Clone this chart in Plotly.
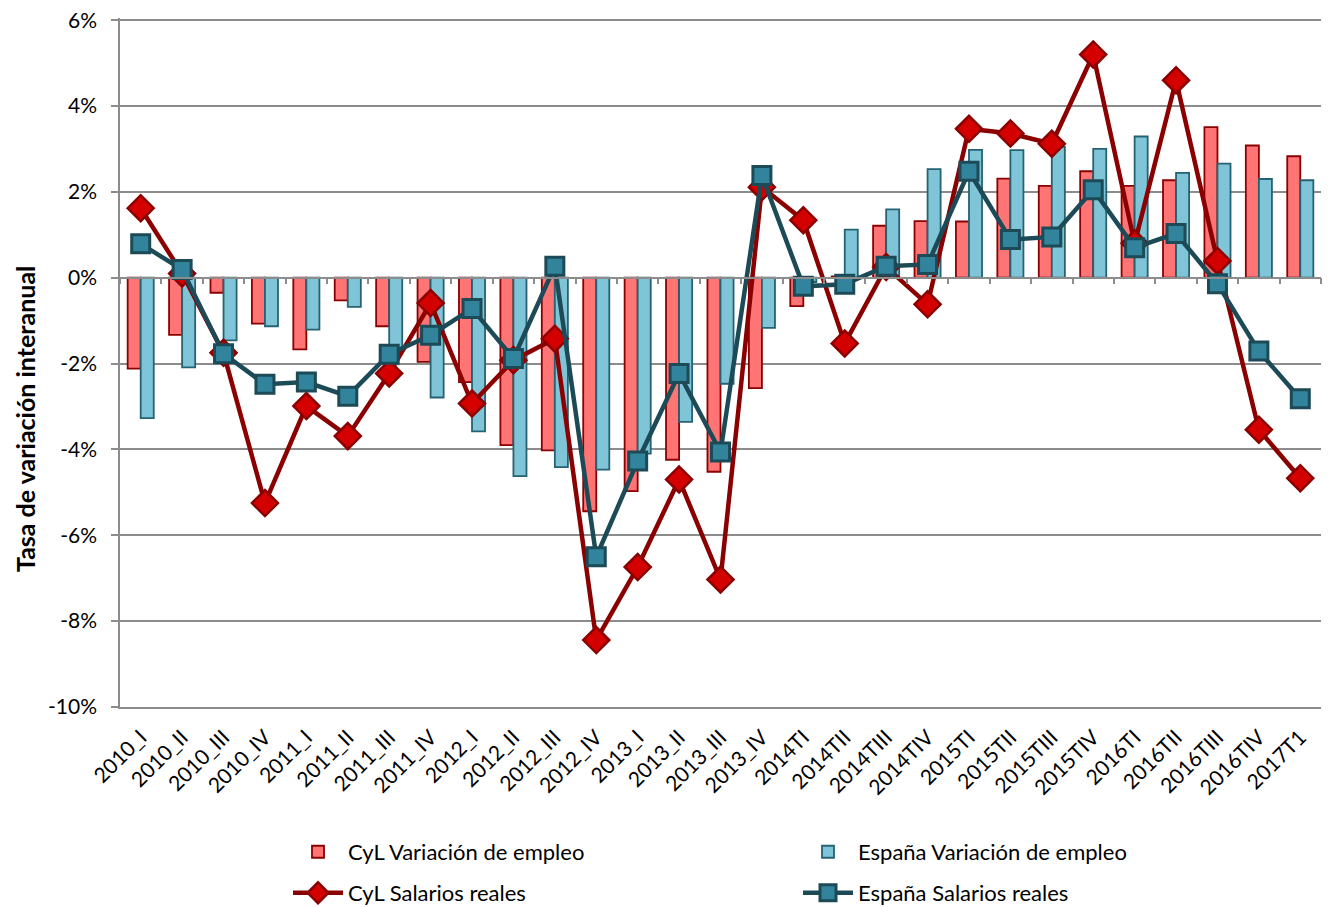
import plotly.graph_objects as go

categories = ["2010_I", "2010_II", "2010_III", "2010_IV", "2011_I", "2011_II", "2011_III", "2011_IV",
              "2012_I", "2012_II", "2012_III", "2012_IV", "2013_I", "2013_II", "2013_III", "2013_IV",
              "2014TI", "2014TII", "2014TIII", "2014TIV", "2015TI", "2015TII", "2015TIII", "2015TIV",
              "2016TI", "2016TII", "2016TIII", "2016TIV", "2017T1"]

cyl_empleo = [-2.12, -1.33, -0.35, -1.07, -1.67, -0.53, -1.13, -1.96,
              -2.43, -3.90, -4.02, -5.44, -4.97, -4.24, -4.52, -2.57,
              -0.66, 0.03, 1.21, 1.32, 1.31, 2.31, 2.14, 2.48,
              2.14, 2.27, 3.51, 3.08, 2.83]

esp_empleo = [-3.27, -2.09, -1.46, -1.13, -1.21, -0.68, -1.75, -2.79,
              -3.58, -4.62, -4.41, -4.47, -4.10, -3.36, -2.47, -1.17,
              -0.10, 1.12, 1.59, 2.53, 2.98, 2.97, 3.05, 3.00,
              3.29, 2.44, 2.66, 2.30, 2.27]

cyl_salarios = [1.62, 0.10, -1.75, -5.25, -2.99, -3.69, -2.23, -0.59,
                -2.93, -1.92, -1.42, -8.44, -6.74, -4.70, -7.03, 2.11,
                1.34, -1.53, 0.25, -0.62, 3.47, 3.36, 3.12, 5.20,
                0.80, 4.60, 0.39, -3.54, -4.67]

esp_salarios = [0.79, 0.19, -1.77, -2.48, -2.43, -2.76, -1.78, -1.34,
                -0.72, -1.88, 0.27, -6.50, -4.27, -2.23, -4.06, 2.38,
                -0.20, -0.15, 0.27, 0.31, 2.48, 0.89, 0.95, 2.05,
                0.70, 1.03, -0.14, -1.71, -2.82]

y_ticks = [-10, -8, -6, -4, -2, 0, 2, 4, 6]

FONT = "Lato"
GRID = "#8C8C8C"

W, H = 1330, 907
# 6% sits at screen y=20, -10% at y=707; a tiny pad above 6% keeps its gridline drawn
Y_MIN, Y_MAX, Y_PAD = -10, 6, 0.05
PX_PER_UNIT = (707 - 20) / (Y_MAX - Y_MIN)
L = 120
T = 20 - Y_PAD * PX_PER_UNIT
R = W - 1321
B = H - 707
PW, PH = W - L - R, H - T - B


def px_x(x):
    """screen pixel x -> paper x"""
    return (x - L) / PW


def px_y(y):
    """screen pixel y -> paper y"""
    return (H - B - y) / PH


fig = go.Figure()
fig.add_trace(go.Bar(x=categories, y=cyl_empleo, name="CyL Variación de empleo", legend="legend",
                     marker=dict(color="#FF7575", line=dict(color="#8B0000", width=1.8))))
fig.add_trace(go.Bar(x=categories, y=esp_empleo, name="España Variación de empleo", legend="legend2",
                     marker=dict(color="#80C4D7", line=dict(color="#256373", width=1.8))))
fig.add_trace(go.Scatter(x=categories, y=cyl_salarios, name="CyL Salarios reales", mode="lines+markers",
                         legend="legend3",
                         line=dict(color="#8B0000", width=4.5),
                         marker=dict(symbol="diamond", size=20, color="#D40000",
                                     line=dict(color="#8B0000", width=2.5))))
fig.add_trace(go.Scatter(x=categories, y=esp_salarios, name="España Salarios reales", mode="lines+markers",
                         legend="legend4",
                         line=dict(color="#1D4A57", width=4.5),
                         marker=dict(symbol="square", size=18, color="#31849B",
                                     line=dict(color="#1D4A57", width=3))))
# helper axis at the zero line (category boundary ticks)
fig.add_trace(go.Scatter(x=categories, y=[None] * len(categories), xaxis="x2", yaxis="y",
                         showlegend=False, hoverinfo="skip", mode="lines"))

legend_common = dict(orientation="h", xanchor="left", yanchor="middle", bgcolor="rgba(0,0,0,0)",
                     font=dict(size=22, family=FONT, color="black"), itemwidth=50)

zero_pos = (0 - Y_MIN) / (Y_MAX + Y_PAD - Y_MIN)

fig.update_layout(
    width=W, height=H,
    margin=dict(l=L, r=R, t=T, b=B, autoexpand=False),
    paper_bgcolor="white", plot_bgcolor="white",
    font=dict(family=FONT, size=21, color="black"),
    barmode="group", bargap=0.37, bargroupgap=0,
    xaxis=dict(type="category", categoryarray=categories, categoryorder="array",
               tickangle=-45, tickfont=dict(size=21), showline=True, linecolor=GRID,
               linewidth=1.5, ticks="", showgrid=False, range=[-0.5, 28.5],
               ticklabelstandoff=8, ticklabeloverflow="allow"),
    xaxis2=dict(type="category", categoryarray=categories, categoryorder="array",
                overlaying="x", anchor="free", position=zero_pos, side="bottom",
                showticklabels=False, ticks="outside", tickson="boundaries", ticklen=6,
                tickcolor=GRID, tickwidth=1.5, showline=True, linecolor=GRID,
                linewidth=1.5, showgrid=False, range=[-0.5, 28.5]),
    yaxis=dict(range=[Y_MIN, Y_MAX + Y_PAD], tickvals=y_ticks, ticktext=[f"{v}%" for v in y_ticks],
               showgrid=True, gridcolor=GRID, gridwidth=1.5, zeroline=False,
               showline=True, linecolor=GRID, linewidth=1.5,
               ticks="outside", ticklen=7, tickcolor=GRID, tickwidth=1.5,
               ticklabelstandoff=10, tickfont=dict(size=21), ticklabeloverflow="allow"),
    legend=dict(x=px_x(288), y=px_y(852), **legend_common),
    legend2=dict(x=px_x(798), y=px_y(852), **legend_common),
    legend3=dict(x=px_x(288), y=px_y(893), **legend_common),
    legend4=dict(x=px_x(798), y=px_y(893), **legend_common),
    annotations=[dict(text="<b>Tasa de variación interanual</b>", textangle=-90,
                      x=px_x(25), y=px_y(419), xref="paper", yref="paper",
                      xanchor="center", yanchor="middle",
                      showarrow=False, font=dict(size=25, family=FONT, color="black"))],
)

fig.write_html("out.html", config={"displayModeBar": False},
               post_script="document.body.style.margin='0';document.body.style.overflow='hidden';")
